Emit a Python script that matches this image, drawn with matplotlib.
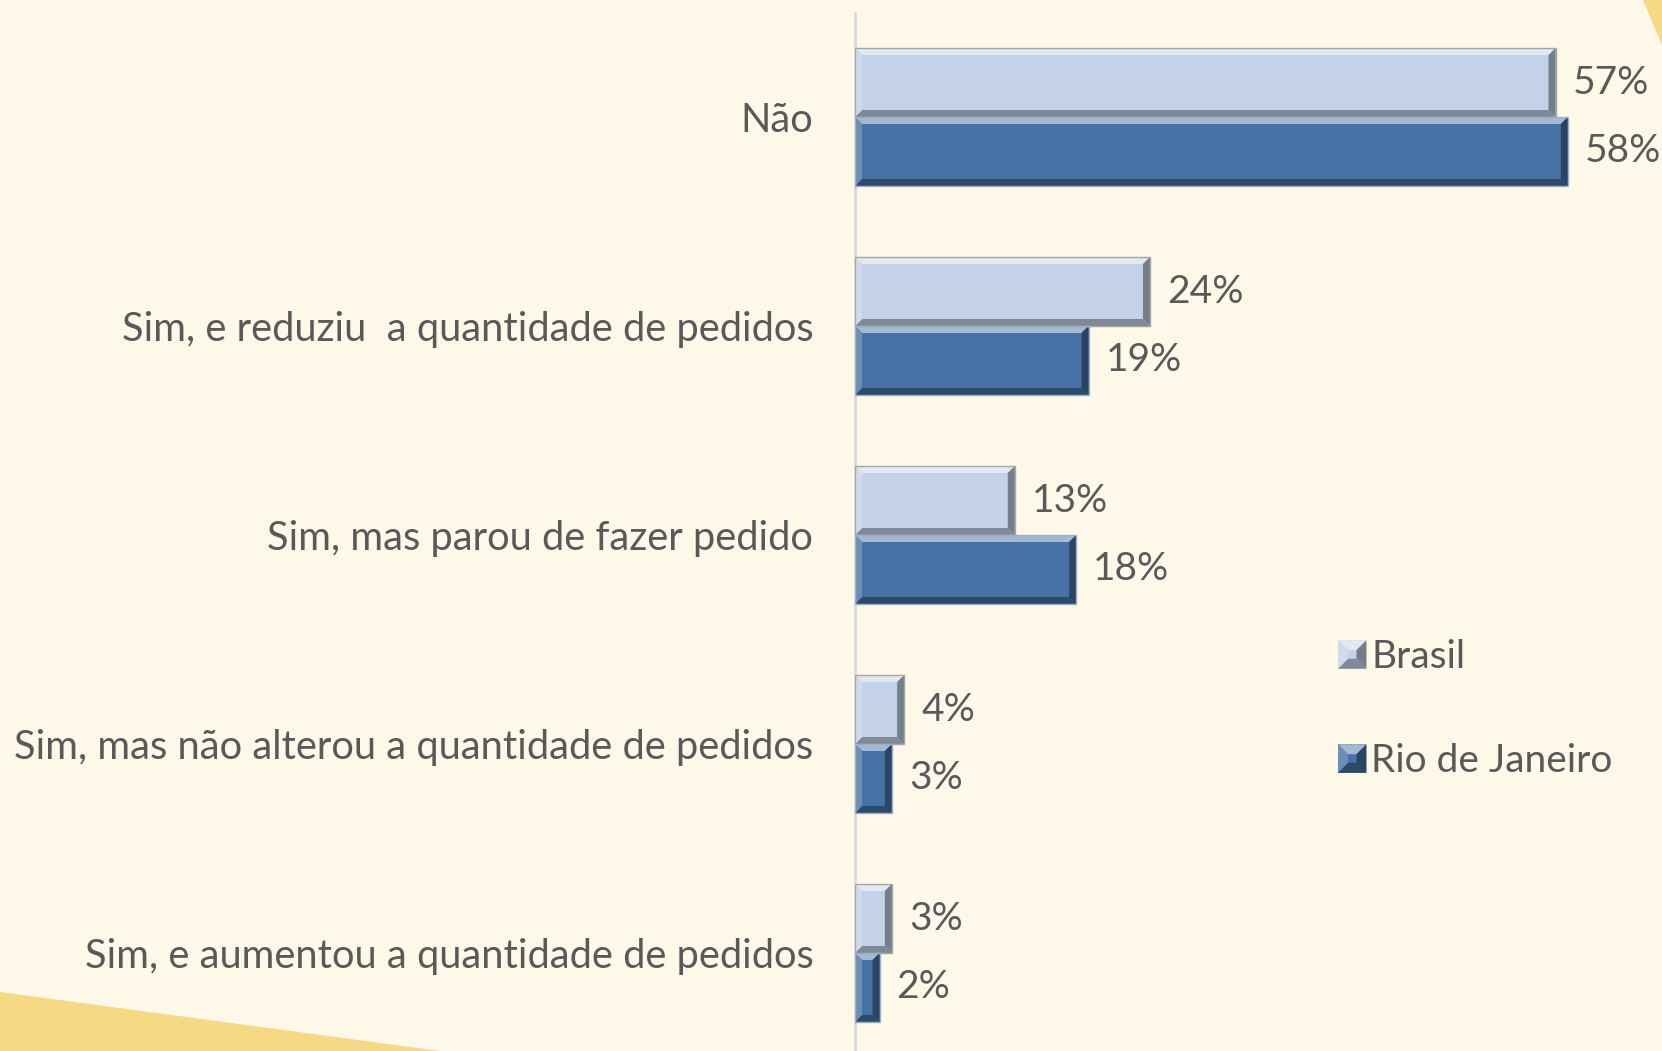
import matplotlib
matplotlib.use("Agg")
import matplotlib.pyplot as plt
from matplotlib.patches import Polygon, Rectangle
from matplotlib.legend_handler import HandlerBase
import numpy as np

categories = ["Não",
              "Sim, e reduziu  a quantidade de pedidos",
              "Sim, mas parou de fazer pedido",
              "Sim, mas não alterou a quantidade de pedidos",
              "Sim, e aumentou a quantidade de pedidos"]
series_names = ["Brasil", "Rio de Janeiro"]
brasil = [57, 24, 13, 4, 3]
rio = [58, 19, 18, 3, 2]

BG = "#FEF8E8"
YEL = "#F5D985"
TXT = "#595959"
C_LIGHT = "#C3D2E8"
C_DARK = "#4672A5"
FS = 28
FAM = "Lato"

W, H = 1662, 1051
fig = plt.figure(figsize=(W / 100, H / 100), dpi=100)
fig.patch.set_facecolor(BG)

# decorative yellow shapes
fig.patches.append(Polygon([[0, 1 - 992 / H], [440 / W, 0], [0, 0]], closed=True,
                           transform=fig.transFigure, facecolor=YEL, edgecolor="none", zorder=0))
fig.patches.append(Polygon([[1643 / W, 1], [1, 1], [1, 1 - 45 / H]], closed=True,
                           transform=fig.transFigure, facecolor=YEL, edgecolor="none", zorder=0))

left_px, right_px = 855, 855 + 60 * 12.29
top_px, bot_px = 12.5, 12.5 + 5 * 209
ax = fig.add_axes([left_px / W, 1 - bot_px / H, (right_px - left_px) / W, (bot_px - top_px) / H])
ax.set_facecolor("none")
ax.set_xlim(0, 60)
ax.set_ylim(4.5, -0.5)

n = len(categories)
y = np.arange(n)
bh = 0.33
px_x = 60 / (right_px - left_px)
px_y = 5 / (bot_px - top_px)


def shade(c, f):
    c = np.array(matplotlib.colors.to_rgb(c))
    if f > 0:
        return tuple(c + (1 - c) * f)
    return tuple(c * (1 + f))


def bevel_polys(x0, y0, x1, y1, bx, by, color):
    # y0 is visual top
    return [
        ([[x0, y0], [x1, y0], [x1 - bx, y0 + by], [x0 + bx, y0 + by]], shade(color, 0.5)),
        ([[x0, y1], [x1, y1], [x1 - bx, y1 - by], [x0 + bx, y1 - by]], shade(color, -0.35)),
        ([[x0, y0], [x0 + bx, y0 + by], [x0 + bx, y1 - by], [x0, y1]], shade(color, 0.2)),
        ([[x1, y0], [x1 - bx, y0 + by], [x1 - bx, y1 - by], [x1, y1]], shade(color, -0.4)),
    ]


def bevel_bar(x0, yc, w, h, color, edge):
    y0 = yc - h / 2
    y1 = yc + h / 2
    x1 = x0 + w
    bx = min(7 * px_x, w / 2.5)
    by = 7 * px_y
    ax.add_patch(Rectangle((x0, y0), w, h, facecolor=color, edgecolor="none", zorder=2))
    for pts, c in bevel_polys(x0, y0, x1, y1, bx, by, color):
        ax.add_patch(Polygon(pts, facecolor=c, edgecolor="none", zorder=3))
    ax.add_patch(Rectangle((x0, y0), w, h, facecolor="none", edgecolor=edge, lw=1.0, zorder=4))


for i in range(n):
    for j, (vals, col, edge) in enumerate([(brasil, C_LIGHT, "#A6A6A6"), (rio, C_DARK, "#9DB0C8")]):
        yc = y[i] - bh / 2 + j * bh
        bevel_bar(0, yc, vals[i], bh, col, edge)
        ax.text(vals[i] + 17 * px_x, yc, f"{vals[i]}%", va="center", ha="left",
                fontsize=FS, color=TXT, family=FAM)

ax.set_yticks(y)
ax.set_yticklabels(categories, fontsize=28.7, color=TXT, family=FAM)
ax.tick_params(axis="y", length=0, pad=30)
ax.set_xticks([])
for s in ["top", "right", "bottom"]:
    ax.spines[s].set_visible(False)
ax.spines["left"].set_color("#D9D9D9")
ax.spines["left"].set_linewidth(2)


class BevelHandler(HandlerBase):
    def create_artists(self, legend, orig_handle, xdescent, ydescent, width, height, fontsize, trans):
        color = orig_handle.get_facecolor()
        s = min(width, height)
        x0, x1 = -xdescent, -xdescent + s
        ylo, yhi = -ydescent, -ydescent + s
        b = s * 0.35
        arts = [Rectangle((x0, ylo), s, s, facecolor=color, edgecolor="none", transform=trans)]
        for pts, c in bevel_polys(x0, yhi, x1, ylo, b, -b, color):
            arts.append(Polygon(pts, facecolor=c, edgecolor="none", transform=trans))
        return arts


handles = [Rectangle((0, 0), 1, 1, facecolor=C_LIGHT),
           Rectangle((0, 0), 1, 1, facecolor=C_DARK)]
leg = fig.legend(handles, series_names, loc="upper left",
                 bbox_to_anchor=(1303 / W, 1 - 604 / H), frameon=False,
                 labelspacing=1.75, handlelength=0.75, handleheight=0.75,
                 handletextpad=0.1, prop={"family": FAM, "size": FS},
                 handler_map={Rectangle: BevelHandler()})
for t in leg.get_texts():
    t.set_color(TXT)

fig.savefig("out.png", dpi=100, facecolor=BG)
